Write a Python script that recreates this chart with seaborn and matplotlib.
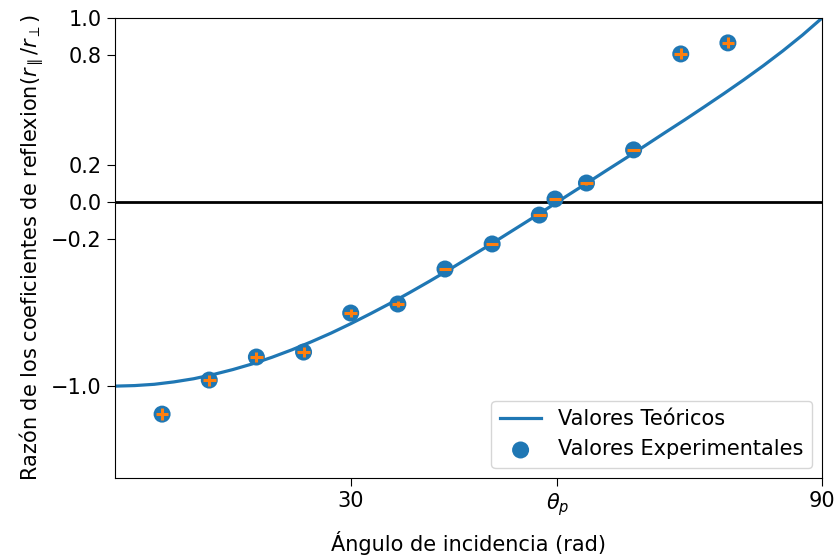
import numpy as np
import pandas as pd
import matplotlib
matplotlib.use("Agg")
import matplotlib.pyplot as plt
import seaborn as sns

# Theoretical curve (every 2.5 degrees)
theo_angle = [0, 2.5, 5, 7.5, 10, 12.5, 15, 17.5, 20, 22.5, 25, 27.5, 30, 32.5,
              35, 37.5, 40, 42.5, 45, 47.5, 50, 52.5, 55, 57.5, 60, 62.5, 65,
              67.5, 70, 72.5, 75, 77.5, 80, 82.5, 85, 87.5, 90]
theo_ratio = [-1.0, -0.997, -0.990, -0.977, -0.960, -0.937, -0.910, -0.879,
              -0.843, -0.803, -0.759, -0.712, -0.661, -0.607, -0.551, -0.492,
              -0.431, -0.368, -0.303, -0.238, -0.171, -0.104, -0.036, 0.033,
              0.101, 0.170, 0.238, 0.307, 0.377, 0.446, 0.517, 0.589, 0.663,
              0.740, 0.821, 0.907, 1.0]

# Experimental points
exp_angle = [6, 12, 18, 24, 30, 36, 42, 48, 54, 56, 60, 66, 72, 78]
exp_ratio = [-1.152, -0.967, -0.842, -0.815, -0.603, -0.554, -0.364, -0.228,
             -0.071, 0.016, 0.103, 0.283, 0.804, 0.864]
exp_xerr = [0.8] * 14
exp_yerr = [0.033, 0.03, 0.028, 0.025, 0.02, 0.015, 0.008, 0.006,
            0.006, 0.006, 0.008, 0.006, 0.03, 0.03]

theta_p = 56.31
xtick_pos = [30, theta_p, 90]
xtick_labels = ["30", r"$\theta_p$", "90"]
ytick_pos = [-1.0, -0.2, 0.0, 0.2, 0.8, 1.0]
ytick_labels = ["\u22121.0", "\u22120.2", "0.0", "0.2", "0.8", "1.0"]

plt.rcParams["font.size"] = 15
fig = plt.figure(figsize=(8.39, 5.58), dpi=100)
ax = fig.add_axes([0.137, 0.143, 0.843, 0.825])

df_t = pd.DataFrame({"x": theo_angle, "y": theo_ratio})
df_e = pd.DataFrame({"x": exp_angle, "y": exp_ratio})

ax.axhline(0, color="black", lw=2, zorder=1)
sns.lineplot(data=df_t, x="x", y="y", ax=ax, color="#1f77b4", lw=2.3,
             label="Valores Teóricos", zorder=2)
sns.scatterplot(data=df_e, x="x", y="y", ax=ax, color="#1f77b4", s=150,
                edgecolor="none", label="Valores Experimentales", zorder=3)
ax.errorbar(exp_angle, exp_ratio, xerr=exp_xerr, yerr=exp_yerr, fmt="none",
            ecolor="#ff7f0e", elinewidth=2.2, zorder=4)

ax.set_xlim(0, 90)
ax.set_ylim(-1.5, 1.0)
ax.set_xticks(xtick_pos)
ax.set_xticklabels(xtick_labels)
ax.set_yticks(ytick_pos)
ax.set_yticklabels(ytick_labels)
ax.tick_params(labelsize=15, length=6)
ax.set_xlabel("Ángulo de incidencia (rad)", fontsize=15, labelpad=9)
ax.set_ylabel(r"Razón de los coeficientes de reflexion($r_\parallel/r_\perp$)", fontsize=15)
ax.legend(loc="lower right", fontsize=15)

fig.savefig("out.png", dpi=100)
